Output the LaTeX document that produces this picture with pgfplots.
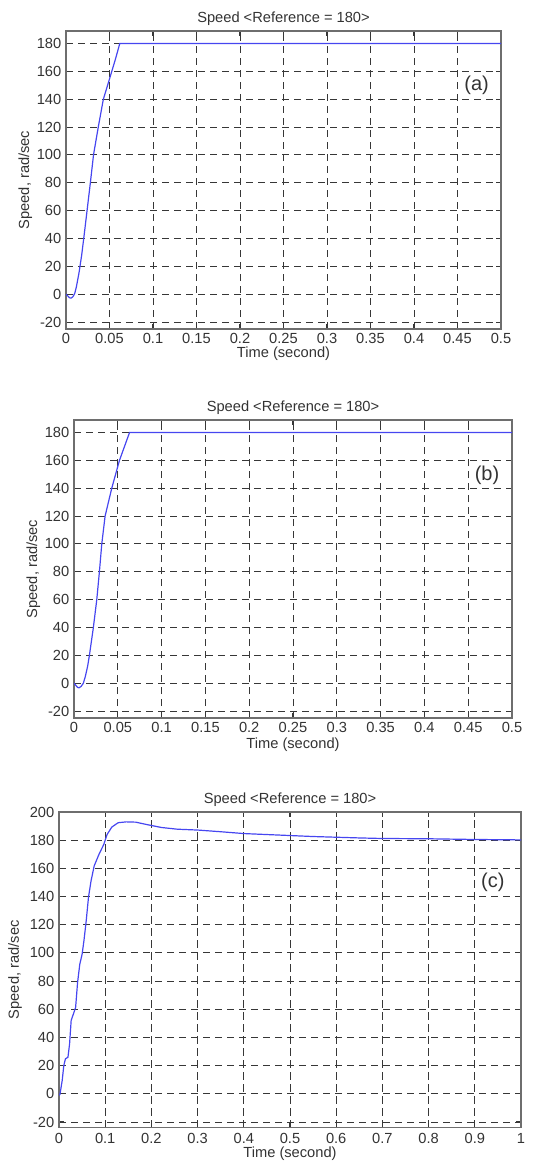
\documentclass[border=0pt]{standalone}
\usepackage{fontspec}
\setmainfont{Liberation Sans}
\usepackage{pgfplots}
\pgfplotsset{compat=1.18}
\definecolor{mlblue}{RGB}{70,70,240}
\definecolor{gridgray}{RGB}{55,55,55}
\definecolor{boxgray}{RGB}{110,110,110}

% one MATLAB-like speed axis
\pgfplotsset{speedax/.style={
    scale only axis,
    axis line style={boxgray, line width=0.9pt},
    tick align=inside, major tick length=3.5pt,
    tick style={gridgray, line width=0.8pt},
    grid=major,
    major grid style={gridgray, line width=0.7pt, dash pattern=on 5.5pt off 3.5pt},
    tick label style={font=\fontsize{11}{13}\selectfont, text=black!80},
    label style={font=\fontsize{11}{13}\selectfont, text=black!80},
    title style={font=\fontsize{11}{13}\selectfont, text=black!80, at={(axis description cs:0.5,1)}, anchor=base, yshift=0.5pt},
    /pgf/number format/assume math mode=true,
    ytick={-20,0,...,200},
    title={Speed <Reference = 180>},
    xlabel={Time (second)},
    ylabel={Speed, rad/sec},
    clip=true,
}}

\begin{document}
\begin{tikzpicture}
\path[use as bounding box] (0,0) rectangle (406.5pt,-871.5pt);

% (a)
\begin{axis}[speedax, at={(49.5pt,-23.25pt)}, anchor=north west,
    width=326.25pt, height=223.5pt,
    xmin=0, xmax=0.5, ymin=-25, ymax=189,
    xtick={0,0.05,...,0.51},
    xticklabels={0,0.05,0.1,0.15,0.2,0.25,0.3,0.35,0.4,0.45,0.5},
    ylabel style={at={(axis description cs:-0.0935,0.5)}, anchor=center},
    xlabel style={at={(axis description cs:0.5,0)}, anchor=center, yshift=-18.5pt}]
\addplot[mlblue, line width=0.9pt] coordinates {
(0,0)(0.002,-1.2)(0.004,-2.6)(0.006,-2.8)(0.008,-1.8)(0.010,0.5)(0.012,5.5)
(0.015,15.5)(0.018,28)(0.0205,40.6)(0.0243,60.5)(0.028,80)(0.0317,100.4)
(0.0373,120.7)(0.0429,139.9)(0.0504,155.4)(0.0567,168.5)(0.0618,180)(0.5,180)};
\node[font=\fontsize{15}{17}\selectfont, text=black!80] at (axis cs:0.472,150) {(a)};
\end{axis}

% (b)
\begin{axis}[speedax, at={(55.5pt,-315pt)}, anchor=north west,
    width=328.5pt, height=223.5pt,
    xmin=0, xmax=0.5, ymin=-25, ymax=189,
    xtick={0,0.05,...,0.51},
    xticklabels={0,0.05,0.1,0.15,0.2,0.25,0.3,0.35,0.4,0.45,0.5},
    ylabel style={at={(axis description cs:-0.093,0.5)}, anchor=center},
    xlabel style={at={(axis description cs:0.5,0)}, anchor=center, yshift=-20pt}]
\addplot[mlblue, line width=0.9pt] coordinates {
(0,0)(0.002,-1.5)(0.004,-3)(0.0057,-3.3)(0.008,-2.4)(0.0107,0)(0.013,5)
(0.0155,12)(0.0176,20)(0.0221,40)(0.026,60)(0.029,80)(0.0317,100)
(0.0355,120)(0.0431,140)(0.0519,160)(0.0634,180)(0.5,180)};
\node[font=\fontsize{15}{17}\selectfont, text=black!80] at (axis cs:0.4715,149) {(b)};
\end{axis}

% (c)
\begin{axis}[speedax, at={(44.25pt,-609pt)}, anchor=north west,
    width=346.5pt, height=236.7pt,
    xmin=0, xmax=1, ymin=-24, ymax=200,
    xtick={0,0.1,...,1.01},
    xticklabels={0,0.1,0.2,0.3,0.4,0.5,0.6,0.7,0.8,0.9,1},
    xticklabel style={yshift=-1pt},
    ylabel style={at={(axis description cs:-0.095,0.5)}, anchor=center},
    xlabel style={at={(axis description cs:0.5,0)}, anchor=center, yshift=-19.5pt}]
\addplot[mlblue, line width=0.9pt] coordinates {
(0,-1)(0.002,-0.5)(0.0069,9.4)(0.0104,20)(0.0139,24.8)(0.0194,26)(0.0229,35.4)
(0.0263,52)(0.0312,56.7)(0.036,61.4)(0.0402,79)(0.045,92)(0.05,99)(0.054,108.7)
(0.0589,122.8)(0.0638,139.4)(0.0693,151)(0.0762,161.8)(0.0866,170)(0.097,177)
(0.104,184)(0.1143,189.3)(0.128,192.4)(0.1455,193)(0.166,192.8)(0.187,191.3)
(0.222,189)(0.256,187.8)(0.3,187.2)(0.35,186)(0.4,184.7)(0.45,184)(0.5,183.3)
(0.55,182.6)(0.6,182.1)(0.65,181.6)(0.7,181.2)(0.8,181)(0.9,180.5)(1,180.2)};
\node[font=\fontsize{15}{17}\selectfont, text=black!80] at (axis cs:0.939,150) {(c)};
\end{axis}
\end{tikzpicture}
\end{document}
